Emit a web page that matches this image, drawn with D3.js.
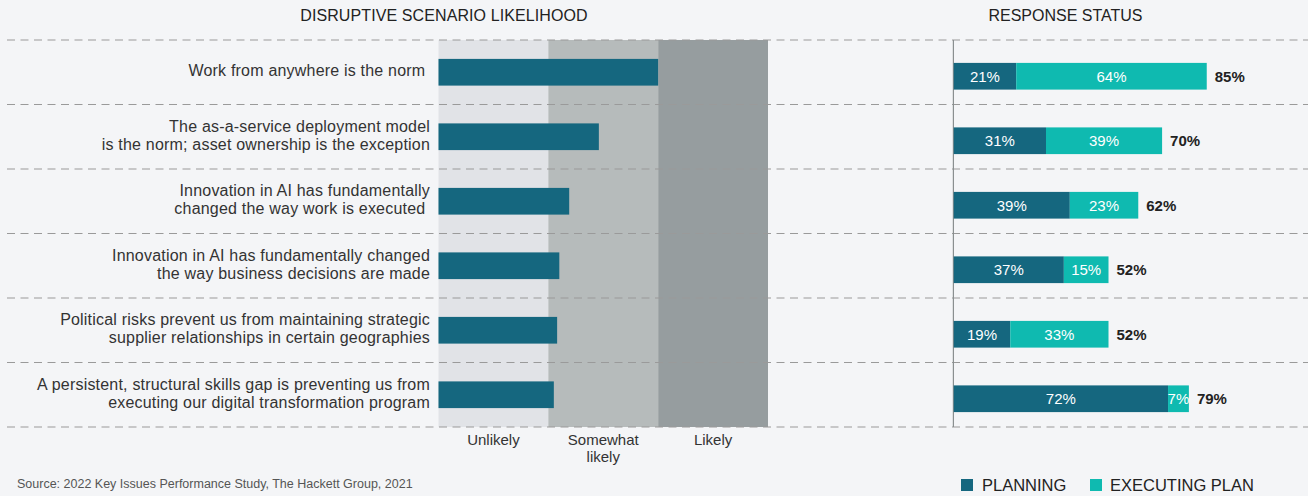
<!DOCTYPE html>
<html>
<head>
<meta charset="utf-8">
<script src="https://cdn.jsdelivr.net/npm/d3@7"></script>
<style>
  body { margin: 0; background: #f4f5f7; }
  svg { display: block; font-family: "Liberation Sans", Arial, sans-serif; }
</style>
</head>
<body>
<div id="chart"></div>
<script>
// Data
var scenarios = [
    ["Work from anywhere is the norm "],
    ["The as-a-service deployment model", "is the norm; asset ownership is the exception"],
    ["Innovation in AI has fundamentally", "changed the way work is executed "],
    ["Innovation in AI has fundamentally changed", "the way business decisions are made"],
    ["Political risks prevent us from maintaining strategic", "supplier relationships in certain geographies"],
    ["A persistent, structural skills gap is preventing us from", "executing our digital transformation program"]
];
var likelihood = [2.0, 1.46, 1.19, 1.1, 1.08, 1.05]; // 0..3 scale (Unlikely | Somewhat likely | Likely)
var likelihoodBands = ["Unlikely", "Somewhat likely", "Likely"];
var bandLabels = [["Unlikely"], ["Somewhat", "likely"], ["Likely"]];
var planning = [21, 31, 39, 37, 19, 72];
var executing = [64, 39, 23, 15, 33, 7];
var seriesNames = ["PLANNING", "EXECUTING PLAN"];

var w = 1308, h = 496;
var dark = "#15677f", teal = "#0fbab0";
var bandColors = ["#e1e3e7", "#b6bbbb", "#969d9f"];

var svg = d3.select("#chart").append("svg")
    .attr("width", w)
    .attr("height", h);

svg.append("rect").attr("width", w).attr("height", h).attr("fill", "#f4f5f7");

// rows
var idx = d3.range(scenarios.length);
var yRow = d3.scaleBand().domain(idx).range([40, 427]);
var barH = 26.7;

// left scales
var xLike = d3.scaleLinear().domain([0, 3]).range([438.5, 768]);
var xBand = d3.scaleBand().domain(likelihoodBands).range([438.5, 768]);

// right scale
var xPct = d3.scaleLinear().domain([0, 100]).range([953.7, 1251.4]);

// titles
svg.append("text").attr("x", 444).attr("y", 21)
    .attr("text-anchor", "middle").attr("font-size", 16).attr("fill", "#222")
    .attr("letter-spacing", 0.1)
    .text("DISRUPTIVE SCENARIO LIKELIHOOD");
svg.append("text").attr("x", 1065.5).attr("y", 21)
    .attr("text-anchor", "middle").attr("font-size", 16).attr("fill", "#222")
    .text("RESPONSE STATUS");

// likelihood background bands
svg.selectAll("rect.band")
    .data(likelihoodBands)
    .enter().append("rect")
    .attr("class", "band")
    .attr("x", function(d) { return xBand(d); })
    .attr("y", yRow.range()[0])
    .attr("width", xBand.bandwidth())
    .attr("height", yRow.range()[1] - yRow.range()[0])
    .attr("fill", function(d, i) { return bandColors[i]; });

// dashed separators
var sepY = idx.map(function(i) { return yRow(i); }).concat([yRow.range()[1]]);
svg.selectAll("line.sep")
    .data(sepY)
    .enter().append("line")
    .attr("class", "sep")
    .attr("x1", 7).attr("x2", w)
    .attr("y1", function(d) { return d; })
    .attr("y2", function(d) { return d; })
    .attr("stroke", "#9a9a9a")
    .attr("stroke-width", 1.2)
    .attr("stroke-dasharray", "8,5.5");

// right axis line
svg.append("line")
    .attr("x1", xPct(0) - 0.3).attr("x2", xPct(0) - 0.3)
    .attr("y1", yRow.range()[0]).attr("y2", yRow.range()[1])
    .attr("stroke", "#8a8f90").attr("stroke-width", 1.2);

// scenario labels
var labels = svg.selectAll("text.scn")
    .data(scenarios)
    .enter().append("text")
    .attr("class", "scn")
    .attr("text-anchor", "end")
    .attr("font-size", 16)
    .attr("letter-spacing", 0.2)
    .attr("fill", "#333")
    .style("white-space", "pre");
labels.each(function(lines, i) {
    var c = yRow(i) + yRow.bandwidth() / 2;
    d3.select(this).selectAll("tspan")
        .data(lines)
        .enter().append("tspan")
        .attr("x", 430)
        .attr("y", function(d, j) { return c + 4 + (j - (lines.length - 1) / 2) * 18; })
        .text(function(d) { return d; });
});

// likelihood bars
svg.selectAll("rect.like")
    .data(likelihood)
    .enter().append("rect")
    .attr("class", "like")
    .attr("x", xLike(0))
    .attr("y", function(d, i) { return yRow(i) + yRow.bandwidth() / 2 - barH / 2; })
    .attr("width", function(d) { return xLike(d) - xLike(0); })
    .attr("height", barH)
    .attr("fill", dark);

// band axis labels
svg.selectAll("text.bandlab")
    .data(bandLabels)
    .enter().append("text")
    .attr("class", "bandlab")
    .attr("text-anchor", "middle")
    .attr("font-size", 15)
    .attr("fill", "#333")
    .each(function(lines, i) {
        d3.select(this).selectAll("tspan")
            .data(lines)
            .enter().append("tspan")
            .attr("x", xBand(likelihoodBands[i]) + xBand.bandwidth() / 2)
            .attr("y", function(d, j) { return 445 + j * 16.5; })
            .text(function(d) { return d; });
    });

// stacked response bars
var rows = idx.map(function(i) {
    return { i: i, p: planning[i], e: executing[i] };
});
function cy(i) { return yRow(i) + yRow.bandwidth() / 2 + 4; }

var g = svg.selectAll("g.resp")
    .data(rows)
    .enter().append("g")
    .attr("class", "resp");

g.append("rect")
    .attr("x", xPct(0))
    .attr("y", function(d) { return cy(d.i) - barH / 2; })
    .attr("width", function(d) { return xPct(d.p) - xPct(0); })
    .attr("height", barH)
    .attr("fill", dark);
g.append("rect")
    .attr("x", function(d) { return xPct(d.p); })
    .attr("y", function(d) { return cy(d.i) - barH / 2; })
    .attr("width", function(d) { return xPct(d.p + d.e) - xPct(d.p); })
    .attr("height", barH)
    .attr("fill", teal);

g.append("text")
    .attr("x", function(d) { return (xPct(0) + xPct(d.p)) / 2; })
    .attr("y", function(d) { return cy(d.i) + 5.3; })
    .attr("text-anchor", "middle").attr("font-size", 15).attr("fill", "#fff")
    .text(function(d) { return d.p + "%"; });
g.append("text")
    .attr("x", function(d) { return (xPct(d.p) + xPct(d.p + d.e)) / 2; })
    .attr("y", function(d) { return cy(d.i) + 5.3; })
    .attr("text-anchor", "middle").attr("font-size", 15).attr("fill", "#fff")
    .text(function(d) { return d.e + "%"; });
g.append("text")
    .attr("x", function(d) { return xPct(d.p + d.e) + 8; })
    .attr("y", function(d) { return cy(d.i) + 5.3; })
    .attr("font-size", 15).attr("font-weight", "bold").attr("fill", "#222")
    .text(function(d) { return (d.p + d.e) + "%"; });

// source
svg.append("text").attr("x", 17).attr("y", 488)
    .attr("font-size", 12.5).attr("fill", "#555")
    .text("Source: 2022 Key Issues Performance Study, The Hackett Group, 2021");

// legend
var legX = [961, 1090];
var leg = svg.selectAll("g.leg")
    .data(seriesNames)
    .enter().append("g")
    .attr("class", "leg")
    .attr("transform", function(d, i) { return "translate(" + legX[i] + ",479)"; });
leg.append("rect")
    .attr("width", 12).attr("height", 12)
    .attr("fill", function(d, i) { return i === 0 ? dark : teal; });
leg.append("text")
    .attr("x", function(d, i) { return i === 0 ? 21 : 20; })
    .attr("y", 12.2)
    .attr("font-size", 16.5).attr("fill", "#222")
    .text(function(d) { return d; });
</script>
</body>
</html>
